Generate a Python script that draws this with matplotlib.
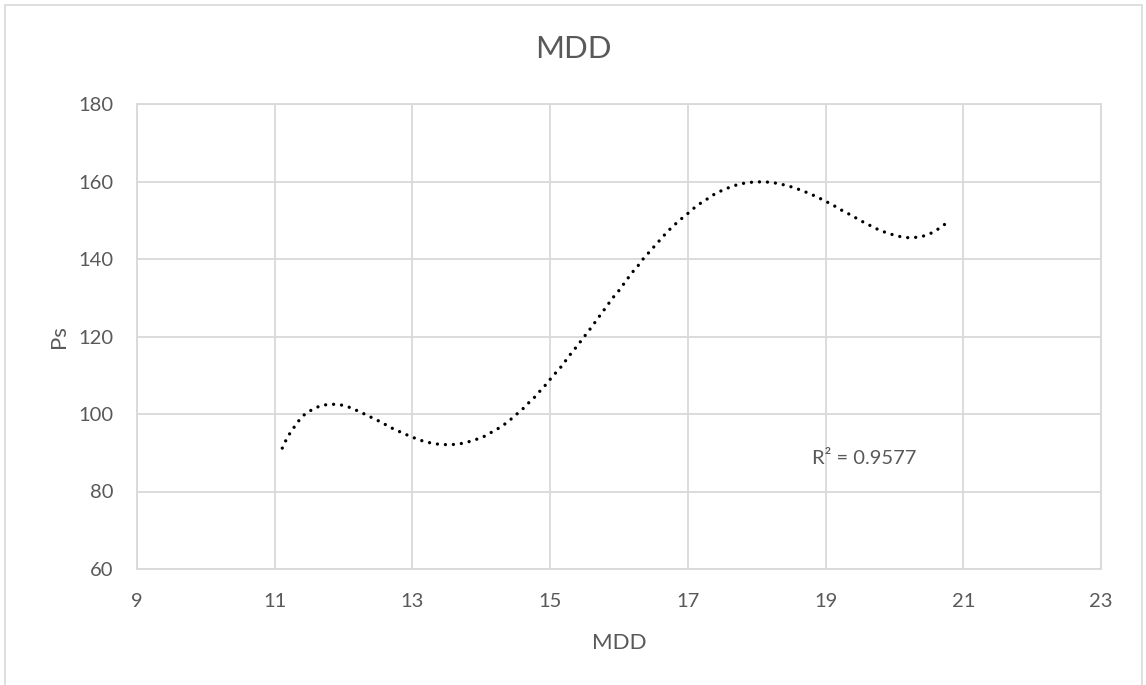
import matplotlib.pyplot as plt
from matplotlib.patches import Rectangle

# trendline points (MDD, Ps)
mdd = [11.11, 11.16, 11.22, 11.29, 11.36, 11.44, 11.55, 11.66, 11.78, 11.89,
       12.01, 12.12, 12.23, 12.34, 12.45, 12.56, 12.66, 12.77, 12.88, 12.99,
       13.10, 13.22, 13.33, 13.45, 13.57, 13.69, 13.81, 13.92, 14.04, 14.14,
       14.24, 14.35, 14.44, 14.53, 14.62, 14.70, 14.79, 14.87, 14.95, 15.02,
       15.10, 15.18, 15.25, 15.32, 15.40, 15.47, 15.55, 15.62, 15.69, 15.76,
       15.83, 15.90, 15.98, 16.05, 16.12, 16.19, 16.27, 16.34, 16.42, 16.50,
       16.58, 16.66, 16.74, 16.83, 16.92, 17.01, 17.10, 17.20, 17.30, 17.40,
       17.51, 17.62, 17.74, 17.86, 17.98, 18.10, 18.21, 18.33, 18.45, 18.56,
       18.68, 18.78, 18.90, 19.00, 19.11, 19.21, 19.32, 19.42, 19.53, 19.63,
       19.74, 19.85, 19.97, 20.08, 20.20, 20.32, 20.44, 20.55, 20.65, 20.75]
ps = [91.2, 93.1, 95.0, 96.8, 98.5, 100.0, 101.2, 102.1, 102.5, 102.5,
      102.2, 101.5, 100.6, 99.7, 98.7, 97.8, 96.7, 95.8, 94.9, 94.1,
      93.3, 92.7, 92.3, 92.1, 92.1, 92.3, 92.8, 93.4, 94.2, 95.2,
      96.2, 97.5, 98.8, 100.2, 101.6, 103.1, 104.6, 106.3, 107.8, 109.4,
      111.0, 112.6, 114.4, 116.0, 117.7, 119.4, 121.2, 122.9, 124.6, 126.3,
      128.0, 129.8, 131.4, 133.1, 134.8, 136.5, 138.1, 139.8, 141.4, 143.0,
      144.6, 146.2, 147.7, 149.2, 150.6, 151.9, 153.3, 154.6, 155.7, 156.9,
      157.8, 158.6, 159.3, 159.7, 159.9, 159.9, 159.8, 159.4, 158.9, 158.3,
      157.5, 156.8, 155.8, 154.9, 153.9, 152.8, 151.8, 150.8, 149.7, 148.8,
      147.8, 147.0, 146.3, 145.8, 145.5, 145.6, 146.0, 146.8, 147.9, 149.2]
xticks = [9, 11, 13, 15, 17, 19, 21, 23]
yticks = [60, 80, 100, 120, 140, 160, 180]
r2_text = 'R² = 0.9577'

plt.rcParams['font.family'] = ['Lato', 'DejaVu Sans']
grey_txt = '#595959'
grey_ln = '#d9d9d9'

fig = plt.figure(figsize=(11.46, 6.85), dpi=100)
ax = fig.add_axes([137 / 1146, 1 - 569 / 685, (1101 - 137) / 1146, (569 - 104) / 685])

# chart area border (bottom edge falls outside the picture)
fig.patches.append(Rectangle((5 / 1146, -0.01), (1142 - 5) / 1146, 1 - 5 / 685 + 0.01,
                             transform=fig.transFigure, fill=False,
                             edgecolor=grey_ln, linewidth=1.2))

ax.plot(mdd, ps, color='black', linewidth=2.4,
        linestyle=(0, (0.001, 2.4)), dash_capstyle='round')

ax.set_xlim(9, 23)
ax.set_ylim(60, 180)
ax.set_xticks(xticks)
ax.set_yticks(yticks)
ax.grid(True, color=grey_ln, linewidth=1.3)
ax.set_axisbelow(True)
for s in ax.spines.values():
    s.set_color(grey_ln)
    s.set_linewidth(1.3)
ax.tick_params(length=0, labelsize=14.5, labelcolor=grey_txt)
ax.tick_params(axis='x', pad=17)
ax.tick_params(axis='y', pad=17)

ax.set_xlabel('MDD', fontsize=16, color=grey_txt, labelpad=17)
ax.set_ylabel('Ps', fontsize=16, color=grey_txt, labelpad=7)
# title is centred on the whole chart area
fig.text(573.5 / 1146, 1 - 49 / 685, 'MDD', fontsize=22.5, color=grey_txt,
         ha='center', va='center')

ax.text(18.80, 88.6, r2_text, fontsize=14.5, color=grey_txt, ha='left', va='center')

fig.savefig('out.png', dpi=100)
